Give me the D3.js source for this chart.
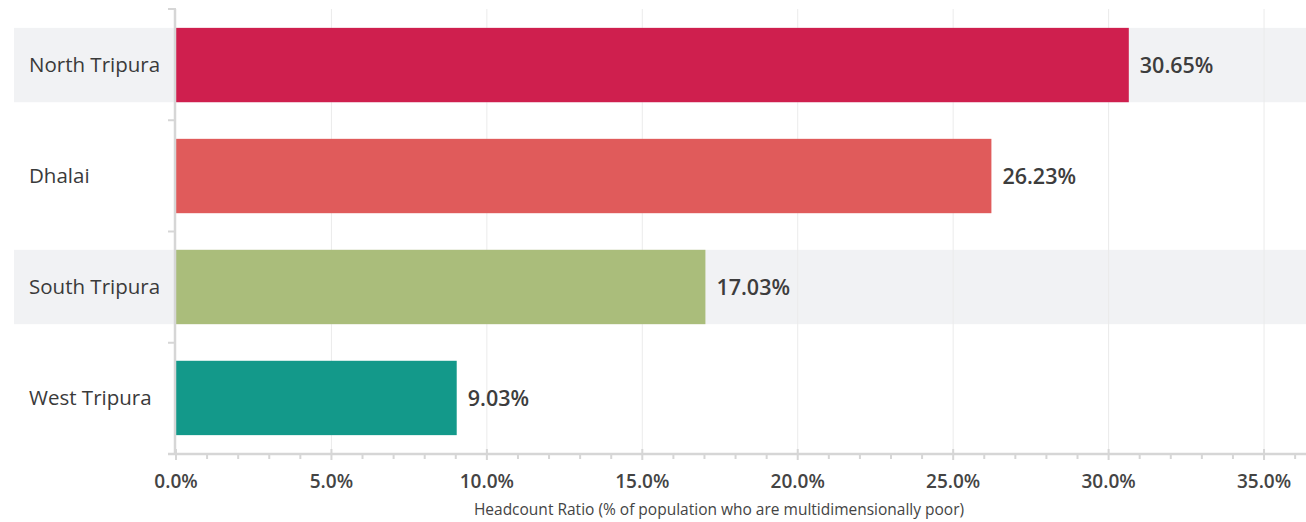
<!DOCTYPE html>
<html><head><meta charset="utf-8">
<script src="https://cdn.jsdelivr.net/npm/d3@7"></script>
<style>body{margin:0;background:#fff;} svg{display:block;font-family:"Open Sans", Lato, sans-serif;}</style>
</head><body>
<svg id="chart" width="1306" height="522"></svg>
<script>
const categories = ["North Tripura", "Dhalai", "South Tripura", "West Tripura"];
const values = [30.65, 26.23, 17.03, 9.03];
const colors = ["#CF1F4E", "#E05B5B", "#AABD7B", "#13998A"];
const majorTicks = [0, 5, 10, 15, 20, 25, 30, 35];
const axisTitle = "Headcount Ratio (% of population who are multidimensionally poor)";

(function(){
const svg = d3.select("#chart");
const mLeft = 176, mRight = 1306, mTop = 9, mBottom = 454;
const x = d3.scaleLinear().domain([0, 36.35]).range([mLeft, mRight]);
const y = d3.scaleBand().domain(categories).range([mTop, mBottom]).paddingInner(0.33).paddingOuter(0.17);

svg.selectAll("rect.stripe").data(categories.filter((d,i)=>i%2===0)).join("rect")
  .attr("class","stripe")
  .attr("x", 14).attr("width", mRight - 14)
  .attr("y", d => y(d)).attr("height", y.bandwidth()).attr("fill", "#f1f2f4");

svg.selectAll("line.grid").data(majorTicks.slice(1)).join("line")
  .attr("class","grid")
  .attr("x1", d => x(d)).attr("x2", d => x(d)).attr("y1", mTop).attr("y2", mBottom)
  .attr("stroke", "#ebebeb").attr("stroke-width", 1);

svg.selectAll("rect.bar").data(values).join("rect")
  .attr("class","bar")
  .attr("x", x(0)).attr("y", (d,i) => y(categories[i]))
  .attr("width", d => x(d) - x(0)).attr("height", y.bandwidth())
  .attr("fill", (d,i) => colors[i]);

svg.selectAll("text.val").data(values).join("text")
  .attr("class","val")
  .attr("x", d => x(d) + 11).attr("y", (d,i) => y(categories[i]) + y.bandwidth()/2)
  .attr("dy", "0.36em").attr("font-size", 21.5).attr("font-weight", 600).attr("fill", "#3d3d3d")
  .text(d => d.toFixed(2) + "%");

svg.append("line").attr("x1", mLeft - 1).attr("x2", mLeft - 1).attr("y1", mTop).attr("y2", mBottom)
  .attr("stroke", "#d6d6d6").attr("stroke-width", 2.5);
const bounds = d3.range(categories.length + 1).map(i => mTop + i * (mBottom - mTop) / categories.length);
svg.selectAll("line.ytick").data(bounds).join("line")
  .attr("class","ytick")
  .attr("x1", mLeft - 8).attr("x2", mLeft).attr("y1", d => d).attr("y2", d => d)
  .attr("stroke", "#d6d6d6").attr("stroke-width", 2);

svg.selectAll("text.cat").data(categories).join("text")
  .attr("class","cat")
  .attr("x", 29).attr("y", d => y(d) + y.bandwidth()/2).attr("dy", "0.36em")
  .attr("font-size", 20.5).attr("fill", "#3a3a3a").text(d => d);

const minor = d3.range(0, 37, 1).filter(d => d % 5 !== 0);
svg.append("line").attr("x1", mLeft - 8).attr("x2", mRight).attr("y1", mBottom).attr("y2", mBottom)
  .attr("stroke", "#d6d6d6").attr("stroke-width", 2.5);
svg.selectAll("line.minor").data(minor).join("line")
  .attr("class","minor")
  .attr("x1", d => x(d)).attr("x2", d => x(d)).attr("y1", mBottom).attr("y2", mBottom + 5)
  .attr("stroke", "#d6d6d6").attr("stroke-width", 2);
svg.selectAll("line.major").data(majorTicks).join("line")
  .attr("class","major")
  .attr("x1", d => x(d)).attr("x2", d => x(d)).attr("y1", mBottom - 5).attr("y2", mBottom + 6)
  .attr("stroke", "#d6d6d6").attr("stroke-width", 2);
svg.selectAll("text.xt").data(majorTicks).join("text")
  .attr("class","xt")
  .attr("x", d => x(d)).attr("y", 488).attr("text-anchor", "middle")
  .attr("font-size", 19).attr("font-weight", 600).attr("fill", "#444")
  .text(d => d.toFixed(1) + "%");
svg.append("text").attr("x", 719).attr("y", 515).attr("text-anchor", "middle")
  .attr("font-size", 15.5).attr("fill", "#444").text(axisTitle);
})();
</script>
</body></html>
